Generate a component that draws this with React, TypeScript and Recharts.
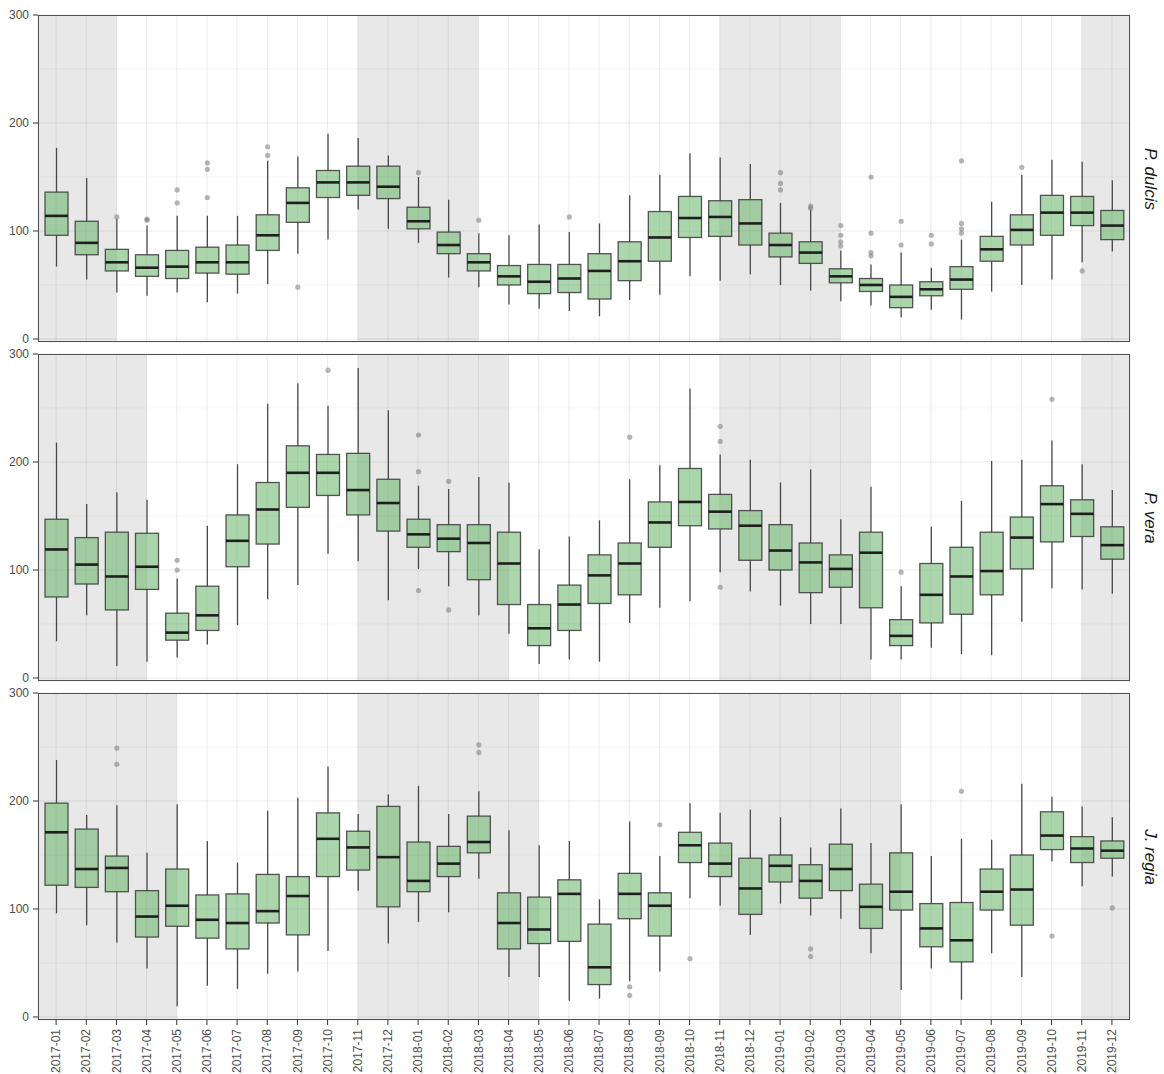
import React from "react";
import {
  ComposedChart,
  Bar,
  XAxis,
  YAxis,
  CartesianGrid,
  ReferenceArea,
  ReferenceLine,
} from "recharts";

const months = [
  "2017-01", "2017-02", "2017-03", "2017-04", "2017-05", "2017-06",
  "2017-07", "2017-08", "2017-09", "2017-10", "2017-11", "2017-12",
  "2018-01", "2018-02", "2018-03", "2018-04", "2018-05", "2018-06",
  "2018-07", "2018-08", "2018-09", "2018-10", "2018-11", "2018-12",
  "2019-01", "2019-02", "2019-03", "2019-04", "2019-05", "2019-06",
  "2019-07", "2019-08", "2019-09", "2019-10", "2019-11", "2019-12",
];

const yTicks = [0, 100, 200, 300];
const minorY = [50, 150, 250];

// P. dulcis
const dulcisLow = [67, 55, 43, 40, 43, 34, 42, 51, 79, 92, 120, 102, 89, 57, 48, 32, 28, 26, 21, 36, 41, 58, 54, 60, 50, 45, 35, 31, 20, 27, 18, 44, 50, 55, 71, 81];
const dulcisQ1 = [96, 78, 63, 58, 56, 61, 60, 82, 108, 131, 133, 130, 102, 79, 63, 50, 42, 43, 37, 54, 72, 94, 95, 87, 76, 70, 52, 44, 29, 40, 46, 72, 87, 96, 105, 92];
const dulcisMed = [114, 89, 71, 66, 67, 71, 71, 96, 126, 145, 145, 141, 109, 87, 71, 58, 53, 56, 63, 72, 94, 112, 113, 107, 87, 80, 58, 50, 39, 46, 55, 83, 101, 117, 117, 105];
const dulcisQ3 = [136, 109, 83, 78, 82, 85, 87, 115, 140, 156, 160, 160, 122, 99, 79, 68, 69, 69, 79, 90, 118, 132, 128, 129, 98, 90, 65, 56, 50, 53, 67, 95, 115, 133, 132, 119];
const dulcisHigh = [177, 149, 111, 105, 114, 114, 114, 165, 169, 190, 186, 170, 150, 129, 98, 96, 106, 99, 107, 133, 152, 172, 168, 162, 126, 120, 82, 69, 80, 66, 92, 127, 152, 166, 164, 147];
const dulcisOut = [
  [], [], [113], [110, 111], [126, 138], [131, 157, 163], [], [170, 178], [48], [], [], [],
  [154], [], [110], [], [], [113], [], [], [], [], [], [],
  [138, 144, 154], [121, 123], [86, 90, 96, 105], [77, 80, 98, 150], [87, 109], [88, 96], [98, 102, 107, 165], [], [159], [], [63], [],
];
const dulcisShade = [[null, "2017-03"], ["2017-11", "2018-03"], ["2018-11", "2019-03"], ["2019-11", null]];

// P. vera
const veraLow = [34, 58, 11, 15, 19, 31, 49, 73, 86, 115, 108, 72, 101, 85, 58, 41, 13, 17, 15, 51, 65, 71, 98, 80, 67, 50, 50, 17, 17, 28, 22, 21, 52, 83, 82, 78];
const veraQ1 = [75, 87, 63, 82, 35, 44, 103, 124, 158, 169, 151, 136, 121, 117, 91, 68, 30, 44, 69, 77, 121, 141, 138, 109, 100, 79, 84, 65, 30, 51, 59, 77, 101, 126, 131, 110];
const veraMed = [119, 105, 94, 103, 42, 58, 127, 156, 190, 190, 174, 162, 133, 129, 125, 106, 46, 68, 95, 106, 144, 163, 154, 141, 118, 107, 101, 116, 39, 77, 94, 99, 130, 161, 152, 123];
const veraQ3 = [147, 130, 135, 134, 60, 85, 151, 181, 215, 207, 208, 184, 147, 142, 142, 135, 68, 86, 114, 125, 163, 194, 170, 155, 142, 125, 114, 135, 54, 106, 121, 135, 149, 178, 165, 140];
const veraHigh = [218, 161, 172, 165, 92, 141, 198, 254, 273, 252, 287, 248, 178, 175, 186, 181, 119, 131, 146, 184, 197, 268, 207, 202, 181, 193, 147, 177, 85, 140, 164, 201, 202, 220, 198, 174];
const veraOut = [
  [], [], [], [], [100, 109], [], [], [], [], [285], [], [],
  [81, 191, 225], [63, 182], [], [], [], [], [], [223], [], [], [84, 219, 233], [],
  [], [], [], [], [98], [], [], [], [], [258], [], [],
];
const veraShade = [[null, "2017-04"], ["2017-11", "2018-04"], ["2018-11", "2019-04"], ["2019-11", null]];

// J. regia
const regiaLow = [96, 85, 69, 45, 10, 29, 26, 40, 42, 61, 117, 68, 88, 97, 128, 37, 37, 15, 17, 33, 42, 110, 103, 76, 105, 94, 91, 59, 25, 45, 16, 59, 37, 144, 121, 130];
const regiaQ1 = [122, 120, 116, 74, 84, 73, 63, 87, 76, 130, 136, 102, 116, 130, 152, 63, 68, 70, 30, 91, 75, 143, 130, 95, 125, 110, 117, 82, 99, 65, 51, 99, 85, 155, 143, 147];
const regiaMed = [171, 137, 138, 93, 103, 90, 87, 98, 112, 165, 157, 148, 126, 142, 162, 87, 81, 114, 46, 114, 103, 159, 142, 119, 140, 126, 137, 102, 116, 82, 71, 116, 118, 168, 156, 154];
const regiaQ3 = [198, 174, 149, 117, 137, 113, 114, 132, 130, 189, 172, 195, 162, 158, 186, 115, 111, 127, 86, 133, 115, 171, 161, 147, 150, 141, 160, 123, 152, 105, 106, 137, 150, 190, 167, 163];
const regiaHigh = [238, 187, 196, 152, 197, 163, 143, 191, 203, 232, 188, 206, 214, 188, 209, 173, 159, 163, 109, 181, 149, 198, 189, 192, 185, 157, 193, 161, 197, 149, 165, 164, 216, 204, 195, 185];
const regiaOut = [
  [], [], [234, 249], [], [], [], [], [], [], [], [], [],
  [], [], [245, 252], [], [], [], [], [20, 28], [178], [54], [], [],
  [], [56, 63], [], [], [], [], [209], [], [], [75], [], [101],
];
const regiaShade = [[null, "2017-05"], ["2017-11", "2018-05"], ["2018-11", "2019-05"], ["2019-11", null]];

const X_MIN = 0.4;
const X_MAX = months.length + 0.6;
const PLOT_LEFT = 38;
const PLOT_W = 1092;
const PLOT_H = 327;
const PAD_TOP = 8;
const FONT = "'Liberation Sans', Arial, sans-serif";

const monthIdx = (m: string) => months.indexOf(m) + 1;

function buildRows(low, q1, med, q3, high, out) {
  return months.map((m, i) => ({
    idx: i + 1,
    month: m,
    box: [q1[i], q3[i]],
    low: low[i],
    q1: q1[i],
    med: med[i],
    q3: q3[i],
    high: high[i],
    out: out[i],
  }));
}

const BoxShape = (props: any) => {
  const { x, y, width, height } = props;
  const d = props.payload || props;
  const top = Math.min(y, y + height);
  const h = Math.abs(height);
  const k = h / (d.q3 - d.q1);
  const py = (v: number) => top + (d.q3 - v) * k;
  const cx = x + width / 2;
  return (
    <g>
      <line x1={cx} x2={cx} y1={py(d.high)} y2={top} stroke="#4a4a4a" strokeWidth={1.3} />
      <line x1={cx} x2={cx} y1={top + h} y2={py(d.low)} stroke="#4a4a4a" strokeWidth={1.3} />
      <rect x={x} y={top} width={width} height={h} fill="#66b366" fillOpacity={0.55} stroke="#3a3a3a" strokeOpacity={0.85} strokeWidth={1.3} />
      <line x1={x} x2={x + width} y1={py(d.med)} y2={py(d.med)} stroke="#1e1e1e" strokeWidth={2.6} />
      {d.out.map((v: number, j: number) => (
        <circle key={j} cx={cx} cy={py(v)} r={2.6} fill="#7a7a7a" fillOpacity={0.55} />
      ))}
    </g>
  );
};

const MonthTick = (props: any) => {
  const { x, y, payload } = props;
  return (
    <g transform={`translate(${x},${y})`}>
      <text transform="rotate(-90)" x={-2} y={0} dy="0.35em" textAnchor="end" fill="#4d4d4d" fontSize={12} fontFamily={FONT}>
        {months[payload.value - 1]}
      </text>
    </g>
  );
};

function FacetPanel({ rows, shade, label, top, showX }: any) {
  const xH = showX ? 66 : 0;
  const bottom = showX ? 2 : 8;
  return (
    <>
      <div style={{ position: "absolute", left: 0, top: top - PAD_TOP }}>
        <ComposedChart
          width={PLOT_LEFT + PLOT_W + 10}
          height={PLOT_H + PAD_TOP + bottom + xH}
          data={rows}
          margin={{ top: PAD_TOP, right: 10, bottom, left: 0 }}
        >
          <CartesianGrid stroke="rgba(0,0,0,0.08)" strokeWidth={1} />
          {minorY.map((v) => (
            <ReferenceLine key={v} y={v} stroke="rgba(0,0,0,0.05)" strokeWidth={0.8} />
          ))}
          {shade.map(([a, b]: any, i: number) => (
            <ReferenceArea
              key={i}
              x1={a ? monthIdx(a) : X_MIN}
              x2={b ? monthIdx(b) : X_MAX}
              y1={-2.8}
              y2={300}
              fill="#000"
              fillOpacity={0.09}
              strokeOpacity={0}
            />
          ))}
          <XAxis
            dataKey="idx"
            type="number"
            domain={[X_MIN, X_MAX]}
            ticks={months.map((_, i) => i + 1)}
            interval={0}
            allowDataOverflow
            hide={!showX}
            height={xH}
            axisLine={false}
            tickSize={5}
            tickLine={{ stroke: "#333" }}
            tick={MonthTick}
          />
          <YAxis
            type="number"
            domain={[-2.8, 300]}
            ticks={yTicks}
            interval={0}
            allowDataOverflow
            width={PLOT_LEFT}
            axisLine={false}
            tickSize={5}
            tickMargin={4}
            tickLine={{ stroke: "#333" }}
            tick={{ fill: "#4d4d4d", fontSize: 12, fontFamily: FONT }}
          />
          <Bar dataKey="box" barSize={23} shape={BoxShape} isAnimationActive={false} />
        </ComposedChart>
      </div>
      <div
        style={{
          position: "absolute",
          left: PLOT_LEFT,
          top,
          width: PLOT_W,
          height: PLOT_H,
          border: "1px solid #505050",
          boxSizing: "border-box",
          pointerEvents: "none",
        }}
      />
      <div
        style={{
          position: "absolute",
          left: 1150,
          top: top + PLOT_H / 2,
          transform: "translate(-50%, -50%) rotate(90deg)",
          whiteSpace: "nowrap",
          fontStyle: "italic",
          fontSize: 17,
          color: "#1a1a1a",
          fontFamily: FONT,
        }}
      >
        {label}
      </div>
    </>
  );
}

export default function App() {
  const dulcis = buildRows(dulcisLow, dulcisQ1, dulcisMed, dulcisQ3, dulcisHigh, dulcisOut);
  const vera = buildRows(veraLow, veraQ1, veraMed, veraQ3, veraHigh, veraOut);
  const regia = buildRows(regiaLow, regiaQ1, regiaMed, regiaQ3, regiaHigh, regiaOut);
  return (
    <div
      style={{
        position: "absolute",
        left: 0,
        top: 0,
        width: 1164,
        height: 1074,
        overflow: "hidden",
        background: "#fff",
        fontFamily: FONT,
      }}
    >
      <FacetPanel rows={dulcis} shade={dulcisShade} label="P. dulcis" top={15} showX={false} />
      <FacetPanel rows={vera} shade={veraShade} label="P. vera" top={354} showX={false} />
      <FacetPanel rows={regia} shade={regiaShade} label="J. regia" top={693} showX />
    </div>
  );
}
